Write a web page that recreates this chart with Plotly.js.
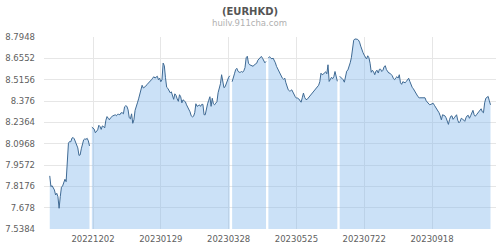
<!DOCTYPE html>
<html>
<head>
<meta charset="utf-8">
<script src="https://cdn.plot.ly/plotly-3.0.1.min.js"></script>
<style>html,body{margin:0;padding:0;background:#fff;}#chart{width:500px;height:250px;}</style>
</head>
<body>
<div id="chart"></div>
<script>
// Daily EUR/HKD rates starting at startDate; null = missing day (gap)
const startDate = '2022-10-26';
const rates = [
  7.886, 7.816, 7.822, 7.805, 7.794, 7.761, 7.772, 7.750, 7.674, 7.750,
  7.812, 7.820, 7.838, 7.864, 7.848, 7.978, 8.100, 8.111, 8.109, 8.133,
  8.137, 8.128, 8.109, 8.082, 8.069, 8.020, 8.023, 8.063, 8.102, 8.122,
  8.128, 8.125, 8.132, 8.115, 8.082,
  null,
  8.205, 8.200, 8.192, 8.168, 8.177, 8.187, 8.217, 8.209, 8.190, 8.213,
  8.209, 8.200, 8.250, 8.274, 8.263, 8.253, 8.266, 8.274, 8.279, 8.282,
  8.286, 8.279, 8.289, 8.289, 8.286, 8.299, 8.299, 8.292, 8.338, 8.345,
  8.341,
  8.318, 8.266, 8.259, 8.292, 8.230, 8.253, 8.315, 8.351, 8.364, 8.390,
  8.423, 8.456, 8.479, 8.461, 8.466, 8.472, 8.482, 8.489, 8.499, 8.505,
  8.515, 8.525, 8.535, 8.526, 8.535, 8.538, 8.515, 8.525, 8.502, 8.515,
  8.624,
  8.607, 8.528, 8.466, 8.459, 8.446, 8.430, 8.436, 8.410, 8.387, 8.423,
  8.413, 8.390, 8.374, 8.417, 8.404, 8.364, 8.384, 8.377, 8.371, 8.351,
  8.338, 8.322, 8.305, 8.279, 8.272, 8.276, 8.299, 8.358,
  8.341, 8.345, 8.351, 8.341, 8.354, 8.354, 8.286, 8.286, 8.331, 8.358,
  8.381, 8.404, 8.341, 8.394, 8.358, 8.351, 8.362, 8.371, 8.430, 8.456,
  8.489, 8.548, 8.502, 8.463, 8.469, 8.495, 8.515, 8.531, 8.541,
  null,
  8.502, 8.522, 8.554, 8.581, 8.590, 8.571, 8.564, 8.564, 8.569, 8.564,
  8.574, 8.594, 8.659, 8.669, 8.623, 8.613, 8.610, 8.603, 8.603, 8.613,
  8.617, 8.623, 8.643, 8.653, 8.659, 8.668, 8.656, 8.640, 8.626, 8.635,
  null,
  8.657, 8.666, 8.659, 8.651, 8.657, 8.643, 8.626, 8.602, 8.587, 8.567,
  8.548, 8.538, 8.525, 8.518, 8.526, 8.495, 8.463, 8.449, 8.442, 8.443,
  8.449, 8.430, 8.413, 8.404, 8.395, 8.395, 8.390, 8.377, 8.368, 8.397,
  8.428, 8.400, 8.387, 8.385, 8.394, 8.400, 8.410, 8.423, 8.433, 8.443,
  8.449, 8.459, 8.466, 8.479, 8.502, 8.558, 8.548, 8.551, 8.561, 8.567,
  8.554, 8.613, 8.504, 8.515, 8.531, 8.522, 8.535, 8.569, 8.535, 8.505,
  null,
  8.538, 8.531, 8.522, 8.515, 8.499, 8.528, 8.571, 8.579, 8.600, 8.626,
  8.659, 8.738, 8.774, 8.782, 8.782, 8.780, 8.775, 8.761, 8.735, 8.708,
  8.692, 8.676, 8.662, 8.651, 8.672, 8.659, 8.623, 8.564, 8.577, 8.567,
  8.548, 8.571, 8.577, 8.559, 8.584, 8.584, 8.569, 8.577, 8.600, 8.607,
  8.581, 8.564, 8.559, 8.558, 8.548, 8.541, 8.522, 8.515, 8.528, 8.535,
  8.526, 8.548, 8.495, 8.485, 8.502, 8.499, 8.495, 8.504, 8.518, 8.525,
  8.504, 8.482, 8.466, 8.456, 8.443, 8.426, 8.413, 8.404, 8.397, 8.397,
  8.399, 8.396, 8.397, 8.397, 8.377, 8.368, 8.358, 8.351, 8.354, 8.358,
  8.361, 8.348, 8.335, 8.328, 8.312, 8.299, 8.279, 8.253, 8.286, 8.282,
  8.279, 8.266, 8.240, 8.223, 8.256, 8.276, 8.279, 8.256, 8.266, 8.279,
  8.286, 8.250, 8.233, 8.242, 8.263, 8.259, 8.250, 8.243, 8.266, 8.279,
  8.282, 8.263, 8.279, 8.299, 8.315, 8.286, 8.276, 8.286, 8.295, 8.302,
  8.309, 8.325, 8.305, 8.299, 8.364, 8.394, 8.400, 8.406, 8.377, 8.351
];

const xTickDates = ['2022-12-02', '2023-01-29', '2023-03-28', '2023-05-25', '2023-07-22', '2023-09-18'];
const xTickLabels = ['20221202', '20230129', '20230328', '20230525', '20230722', '20230918'];
const yTickValues = [7.5384, 7.678, 7.8176, 7.9572, 8.0968, 8.2364, 8.376, 8.5156, 8.6552, 8.7948];
const yTickLabels = ['7.5384', '7.678', '7.8176', '7.9572', '8.0968', '8.2364', '8.376', '8.5156', '8.6552', '8.7948'];
const titleText = '(EURHKD)';
const subtitleText = 'huilv.911cha.com';

// build daily date list
const t0 = new Date(startDate + 'T00:00:00Z').getTime();
const dates = rates.map((_, i) => new Date(t0 + i * 86400000).toISOString().slice(0, 10));

// split into continuous segments at missing days
const segments = [];
let cur = {x: [], y: []};
rates.forEach((v, i) => {
  if (v === null) {
    if (cur.x.length) segments.push(cur);
    cur = {x: [], y: []};
  } else {
    cur.x.push(dates[i]);
    cur.y.push(v);
  }
});
if (cur.x.length) segments.push(cur);

const traces = segments.map(s => ({
  type: 'scatter',
  mode: 'lines',
  x: s.x,
  y: s.y,
  line: {color: '#3f6a94', width: 1},
  fill: 'tozeroy',
  fillcolor: 'rgba(124,181,236,0.4)',
  hoverinfo: 'skip',
  showlegend: false
}));

const layout = {
  width: 500,
  height: 250,
  margin: {l: 44, r: 4, t: 37, b: 21, pad: 0},
  paper_bgcolor: '#ffffff',
  plot_bgcolor: '#ffffff',
  font: {family: 'DejaVu Sans, sans-serif', size: 8.5, color: '#606060'},
  title: {
    text: '<b>' + titleText + '</b>',
    font: {family: 'DejaVu Sans, sans-serif', size: 10, color: '#555555'},
    x: 0.5, xref: 'container', xanchor: 'center',
    y: 0.956, yref: 'container', yanchor: 'middle'
  },
  annotations: [{
    text: subtitleText,
    xref: 'paper', yref: 'paper',
    x: 0.4546, y: 1.0714,
    xanchor: 'center', yanchor: 'middle',
    showarrow: false,
    font: {family: 'DejaVu Sans, sans-serif', size: 8.5, color: '#b0b0b0'}
  }],
  xaxis: {
    type: 'date',
    range: ['2022-10-21 02:00', '2023-11-11 17:00'],
    tickmode: 'array',
    tickvals: xTickDates,
    ticktext: xTickLabels,
    showgrid: true,
    gridcolor: '#e6e6e6',
    gridwidth: 1,
    zeroline: false,
    showline: false,
    ticks: '',
    ticklabelstandoff: 3,
    tickfont: {size: 8.5, color: '#606060'},
    fixedrange: true
  },
  yaxis: {
    range: [7.5384, 8.7948],
    tickmode: 'array',
    tickvals: yTickValues,
    ticktext: yTickLabels,
    showgrid: true,
    gridcolor: '#e6e6e6',
    gridwidth: 1,
    zeroline: false,
    showline: false,
    ticks: '',
    ticklabelstandoff: 8,
    tickfont: {size: 8.5, color: '#606060'},
    fixedrange: true
  }
};

Plotly.newPlot('chart', traces, layout, {staticPlot: true, displayModeBar: false});
</script>
</body>
</html>
